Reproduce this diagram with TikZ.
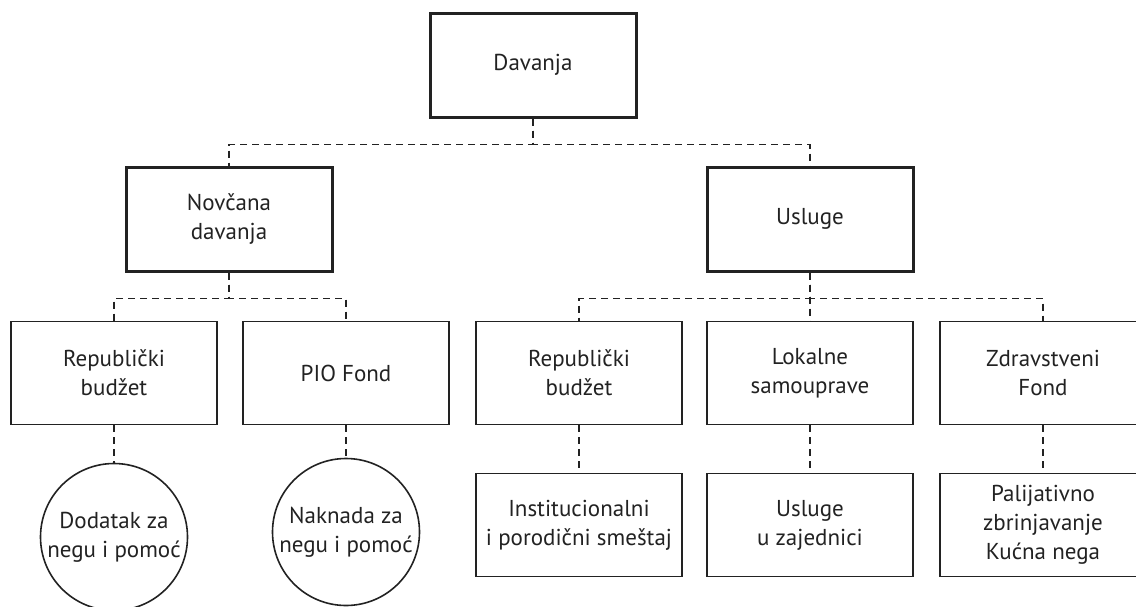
\documentclass[tikz,border=0pt]{standalone}
\usepackage{fontspec}
\setmainfont{PT Sans}
\usepackage{tikz}
\definecolor{ink}{HTML}{222222}
\tikzset{
  box/.style={rectangle, draw=ink, line width=1.6pt, minimum width=206pt,
    minimum height=103pt, inner sep=0pt, align=center, text=ink},
  mainbox/.style={box, line width=3pt, minimum height=104pt},
  ring/.style={circle, draw=ink, line width=1.6pt, minimum size=147pt,
    inner sep=0pt, align=center, text=ink},
  link/.style={draw=ink, line width=1.4pt, dash pattern=on 7pt off 5pt}
}

\begin{document}
\begin{tikzpicture}[x=1pt,y=-1pt,font=\fontsize{23}{29}\selectfont]
  \useasboundingbox (0,0) rectangle (1136,606);

  \foreach \x/\y/\lab/\txt in {
    533/65/dav/{Davanja},
    229/219/nov/{Novčana\\davanja},
    810/219/usl/{Usluge}%
  } {
    \node[mainbox] (\lab) at (\x, \y) {\txt};
  }
  \foreach \x/\y/\lab/\txt in {
    114/373/rbn/{Republički\\budžet},
    346/373/pio/{PIO Fond},
    579/373/rbu/{Republički\\budžet},
    810/373/lok/{Lokalne\\samouprave},
    1043/373/zdr/{Zdravstveni\\Fond},
    579/525/ins/{Institucionalni\\i porodični smeštaj},
    810/525/zaj/{Usluge\\u zajednici},
    1043/525/pal/{Palijativno\\zbrinjavanje\\Kućna nega}%
  } {
    \node[box] (\lab) at (\x, \y) {\txt};
  }
  \node[ring] (dod) at (114, 537) {Dodatak za\\negu i pomoć};
  \node[ring] (nak) at (346, 532) {Naknada za\\negu i pomoć};

  % branches
  \foreach \u/\v in {
    dav/nov,
    dav/usl,
    nov/rbn,
    nov/pio,
    usl/rbu,
    usl/lok,
    usl/zdr%
  }{
    \draw[link] (\u.south) -- ++(0,26) -| (\v.north);
  }
  \foreach \u/\v in {
    rbn/dod,
    pio/nak,
    rbu/ins,
    lok/zaj,
    zdr/pal%
  }{
    \draw[link] (\u.south) -- (\v.north);
  }
\end{tikzpicture}
\end{document}
